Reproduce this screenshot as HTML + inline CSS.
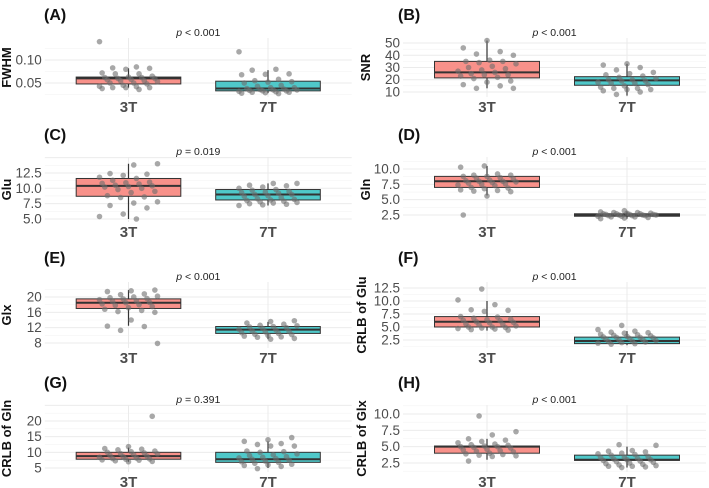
<!DOCTYPE html>
<html><head><meta charset="utf-8"><style>
body{margin:0;background:#fff}
svg{display:block;font-family:"Liberation Sans",sans-serif}
</style></head><body>
<svg id="chart" width="709" height="488" viewBox="0 0 709 488"></svg>
<script>
const panelLetters=["(A)","(B)","(C)","(D)","(E)","(F)","(G)","(H)"];
const yLabels=["FWHM","SNR","Glu","Gln","Glx","CRLB of Glu","CRLB of Gln","CRLB of Glx"];
const pTexts=["< 0.001","< 0.001","= 0.019","< 0.001","< 0.001","< 0.001","= 0.391","< 0.001"];
const categories=["3T","7T"];
const domains=[[0.0196,0.148],[5.9,54.1],[4.51,15.1],[1.36,11.96],[6.7,23.9],[0.96,13.65],[3.72,25.1],[1.12,11.38]];
const majorTicks=[[0.05,0.10],[10,20,30,40,50],[5,7.5,10,12.5],[2.5,5,7.5,10],[8,12,16,20],[2.5,5,7.5,10,12.5],[5,10,15,20],[2.5,5,7.5,10]];
const tickLabels=[["0.05","0.10"],["10","20","30","40","50"],["5.0","7.5","10.0","12.5"],["2.5","5.0","7.5","10.0"],["8","12","16","20"],["2.5","5.0","7.5","10.0","12.5"],["5","10","15","20"],["2.5","5.0","7.5","10.0"]];
// box stats per panel: [3T [lo,q1,med,q3,hi], 7T [...]]
const boxStats=[
[[0.04,0.048,0.060,0.063,0.082],[0.028,0.033,0.038,0.054,0.078]],
[[13,21.5,26,35,52],[7,15.5,19.5,22.5,33]],
[[5,8.7,10.4,11.6,14],[7.2,8.1,9.0,9.8,10.8]],
[[5.7,7.0,8.0,8.8,10.5],[1.9,2.3,2.5,2.7,3.1]],
[[12.5,17,18.5,19.5,21.8],[9,10.5,11.5,12.3,13.5]],
[[4.3,5,6,7,10],[1.5,1.8,2.3,3.05,4.2]],
[[7,7.8,8.8,10,11.5],[5,6.8,7.8,10,13.5]],
[[3,4,5,5.1,6.2],[1.8,2.9,3.0,3.7,5]]];
const points3T=[
[.14,.085,.083,.082,.08,.072,.07,.07,.065,.063,.062,.062,.06,.06,.058,.057,.055,.055,.053,.05,.05,.048,.045,.043,.042,.04,.04,.04,.038,.036],
[52,46,43,41,40,36,35,35,34,33,31,30,29,28,27,26,25,24,24,23,22,21,19,18,16,15,13,13],
[14,13.8,12.4,12.3,12.1,11.8,11.6,11.3,11,10.9,10.8,10.7,10.5,10.4,10.3,10.2,10,9.8,9.5,9.3,8.8,8.6,8.5,7.8,7.6,7.2,6.8,5.8,5.4,5],
[10.5,10.3,9.2,9,9,8.8,8.8,8.6,8.5,8.4,8.2,8.1,8,8,7.9,7.8,7.7,7.6,7.5,7.4,7.3,7,6.9,6.8,6.6,6.5,6.4,6.3,5.6,2.5],
[21.8,21.6,21.4,20.8,20.6,20.2,20,19.8,19.6,19.5,19.3,19,18.8,18.6,18.5,18.2,18,17.8,17.5,17.2,16.8,16.5,16.2,16,14,12.4,12.3,11.3,7.9],
[12.3,10.2,9.3,8.3,8.2,8,7,6.9,6.7,6.5,6.4,6.3,6.2,6,5.9,5.8,5.6,5.5,5.4,5.2,5,5,4.9,4.8,4.7,4.6,4.5,4.4],
[21.5,11.8,11.2,11,10.8,10.4,10.2,10,9.8,9.6,9.5,9.2,9,8.8,8.6,8.4,8.2,8,7.9,7.8,7.6,7.5,7.3,7.1,7],
[9.7,7.3,6.8,6.2,6,5.8,5.6,5.4,5.3,5.2,5.1,5,5,4.9,4.8,4.6,4.5,4.4,4.3,4.2,4,3.9,3.8,3.7,3.6,3.5,2.8]];
const points7T=[
[.118,.08,.078,.07,.069,.068,.058,.055,.053,.052,.05,.045,.043,.04,.04,.038,.037,.036,.035,.035,.034,.033,.033,.032,.031,.03,.03,.029,.028,.027],
[33,32,30,28,26,25,24,23,22,21,20,20,19,19,18,17,17,16,15,14,13,13,12,12,11,10,8],
[10.8,10.8,10.5,10.4,10.2,10,9.8,9.7,9.5,9.4,9.3,9.2,9,9,8.8,8.7,8.5,8.3,8.2,8.1,8,7.9,7.8,7.7,7.6,7.5,7.4,7.3,7.2],
[3.2,3.0,2.9,2.9,2.8,2.8,2.7,2.7,2.7,2.6,2.6,2.6,2.5,2.5,2.5,2.4,2.4,2.4,2.3,2.3,2.2,2.2,2.1,2.0,1.9],
[13.8,13.6,13.2,12.9,12.6,12.5,12.3,12.2,12,11.8,11.6,11.4,11.2,11,10.9,10.7,10.5,10.3,10.2,10,9.8,9.6,9.5,9.2,9],
[5.3,4.5,4.2,4,3.9,3.8,3.6,3.5,3.4,3.3,3.2,3.1,3,3,2.9,2.8,2.7,2.6,2.5,2.4,2.3,2.2,2.1,2,1.9,1.8,1.7],
[14.7,14,13.5,12.8,12.5,12,12,10.4,10.2,10,9.5,9.2,9,8.6,8.4,8.2,8,7.8,7.5,7.2,7,6.8,6.5,6.2,6,5.8,5.5,4.8],
[5.3,5.2,4.4,4.3,4.2,4,3.9,3.8,3.7,3.5,3.4,3.3,3.2,3.1,3,3,2.9,2.8,2.7,2.6,2.5,2.4,2.3,2.2,2.1,2,2,1.9,1.8]];

const NS="http://www.w3.org/2000/svg";
const svg=document.getElementById('chart');
function mk(tag,attrs,parent,text){const e=document.createElementNS(NS,tag);for(const k in attrs)e.setAttribute(k,attrs[k]);if(text!==undefined)e.textContent=text;(parent||svg).appendChild(e);return e;}
const rowTop=[38,157,282,405],rowBot=[97,222,348,472];
const titleY=[20,140,263,388];
const fills=["#f8918a","#4fc8c9"];
for(let p=0;p<8;p++){
  const col=p%2,row=Math.floor(p/2);
  const c1=col?487:128.5,c2=col?627:268;
  const u=c2-c1;
  const L=c1-0.6*u,R=Math.min(c2+0.6*u,706);
  const top=rowTop[row],bot=rowBot[row];
  const [d0,d1]=domains[p];
  const y=v=>bot-(v-d0)/(d1-d0)*(bot-top);
  const g=mk('g',{});
  
  
  const mt=majorTicks[p];const step=mt[1]-mt[0];
  for(let v=mt[0]-step/2;v<=d1;v+=step/2){
    if(v<d0) continue;
    const isMajor=Math.abs(((v-mt[0])/step)-Math.round((v-mt[0])/step))<1e-6;
    mk('line',{x1:L,x2:R,y1:y(v),y2:y(v),stroke:isMajor?'#ebebeb':'#f3f3f3','stroke-width':isMajor?1:0.6},g);
  }
  [c1,c2].forEach(cx=>mk('line',{x1:cx,x2:cx,y1:top,y2:bot,stroke:'#ebebeb','stroke-width':1},g));
  mt.forEach((v,i)=>{const t=mk('text',{x:L-3,y:y(v)+4.5,'text-anchor':'end','font-size':13.5,fill:'#4d4d4d'},g,tickLabels[p][i]);
    });
  const ylx=col?(yLabels[p].length>4?366:370):11;
  const yl=mk('text',{x:ylx,y:(top+bot)/2,'text-anchor':'middle','font-size':13,'font-weight':'bold',fill:'#111',transform:`rotate(-90 ${ylx} ${(top+bot)/2})`},g,yLabels[p]);
  
  const tt=mk('text',{x:col?398:44,y:titleY[row],'font-size':16,'font-weight':'bold',fill:'#111'},g,panelLetters[p]);
  
  const pt=mk('text',{x:(L+R)/2,y:top-2,'text-anchor':'middle','font-size':10.5,fill:'#222'},g);
  
  mk('tspan',{'font-style':'italic'},pt,'p');mk('tspan',{},pt,' '+pTexts[p]);
  const bw=0.75*u;
  [c1,c2].forEach((cx,k)=>{
    const s=boxStats[p][k];
    const wl=mk('line',{x1:cx,x2:cx,y1:y(s[0]),y2:y(s[4]),stroke:'#333','stroke-width':1.2},g);
    
    const b=mk('rect',{x:cx-bw/2,y:y(s[3]),width:bw,height:Math.max(y(s[1])-y(s[3]),1),fill:fills[k],stroke:'#333','stroke-width':1},g);
    
    const md=mk('line',{x1:cx-bw/2,x2:cx+bw/2,y1:y(s[2]),y2:y(s[2]),stroke:'#333','stroke-width':2},g);
    
    const pts=k?points7T[p]:points3T[p];
    pts.forEach((v,i)=>{
      const j=(((i*37+p*11)%23)/22-0.5)*58;
      const c=mk('circle',{cx:cx+j,cy:y(v),r:2.8,fill:'#6e6e6e','fill-opacity':0.6},g);
      
    });
    const cl=mk('text',{x:cx,y:bot+15,'text-anchor':'middle','font-size':15,'font-weight':'bold',fill:'#4d4d4d'},g,categories[k]);
    
  });
}
</script>
</body></html>
